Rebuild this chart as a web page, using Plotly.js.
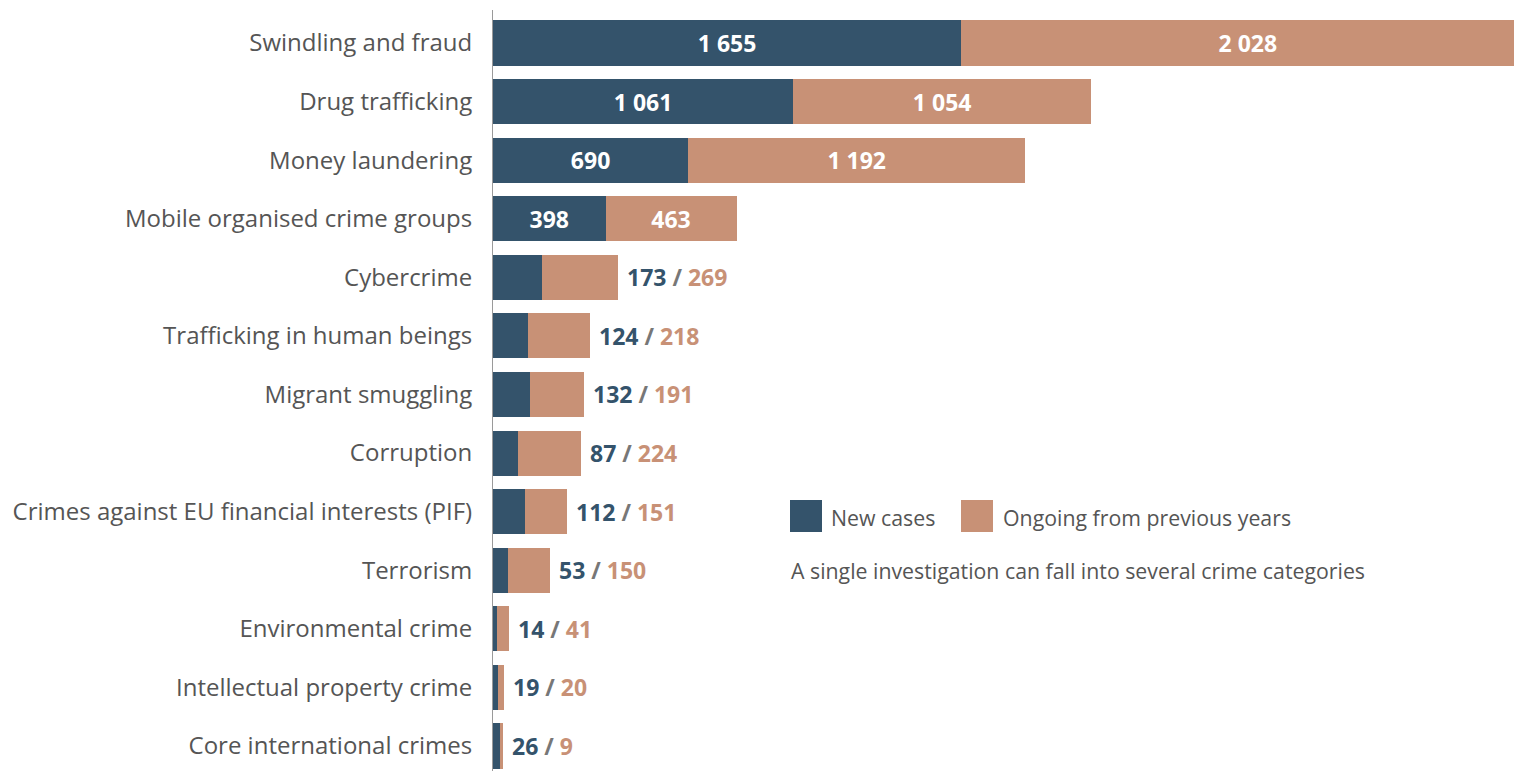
<!DOCTYPE html>
<html><head><meta charset="utf-8">
<script src="https://cdn.plot.ly/plotly-3.0.1.min.js"></script>
<style>html,body{margin:0;padding:0;background:#fff}#chart{width:1514px;height:771px}</style>
</head><body><div id="chart"></div>
<script>
const categories = ["Swindling and fraud","Drug trafficking","Money laundering","Mobile organised crime groups","Cybercrime","Trafficking in human beings","Migrant smuggling","Corruption","Crimes against EU financial interests (PIF)","Terrorism","Environmental crime","Intellectual property crime","Core international crimes"];
const newCases = [1655,1061,690,398,173,124,132,87,112,53,14,19,26];
const ongoing = [2028,1054,1192,463,269,218,191,224,151,150,41,20,9];
const insideRows = 4;
const seriesNames = ["New cases","Ongoing from previous years"];
const noteText = "A single investigation can fall into several crime categories";

const C_NEW = "#34536b", C_OLD = "#c89176", C_TXT = "#555555";
const fmt = v => String(v).replace(/\B(?=(\d{3})+(?!\d))/g, " ");

const traces = [
  {type:"bar", orientation:"h", y:categories, x:newCases, name:seriesNames[0],
   marker:{color:C_NEW}, text:newCases.map((v,i)=> i<insideRows?fmt(v):""),
   textposition:"inside", insidetextanchor:"middle", constraintext:"none",
   textfont:{color:"#ffffff", size:23, family:"Open Sans", weight:700}, hoverinfo:"none"},
  {type:"bar", orientation:"h", y:categories, x:ongoing, name:seriesNames[1],
   marker:{color:C_OLD}, text:ongoing.map((v,i)=> i<insideRows?fmt(v):""),
   textposition:"inside", insidetextanchor:"middle", constraintext:"none",
   textfont:{color:"#ffffff", size:23, family:"Open Sans", weight:700}, hoverinfo:"none"}
];

const annotations = [];
categories.forEach((c,i)=>{
  if(i<insideRows) return;
  annotations.push({x:newCases[i]+ongoing[i], y:c, xref:"x", yref:"y", xanchor:"left", yanchor:"middle",
    xshift:7, showarrow:false, font:{family:"Open Sans", size:23},
    text:`<b><span style="color:${C_NEW}">${fmt(newCases[i])}</span> <span style="color:#777777">/</span> <span style="color:${C_OLD}">${fmt(ongoing[i])}</span></b>`});
});
const PL=493, PW=1021, PT=10, PH=761;
const px = p => (p-PL)/PW, py = p => (PT+PH-p)/PH;
annotations.push({x:px(829), y:py(517), xref:"paper", yref:"paper", xanchor:"left", yanchor:"middle", showarrow:false, text:seriesNames[0], font:{family:"Open Sans", size:21.3, color:C_TXT}});
annotations.push({x:px(1001), y:py(517), xref:"paper", yref:"paper", xanchor:"left", yanchor:"middle", showarrow:false, text:seriesNames[1], font:{family:"Open Sans", size:21.3, color:C_TXT}});
annotations.push({x:px(789), y:py(570), xref:"paper", yref:"paper", xanchor:"left", yanchor:"middle", showarrow:false, text:noteText, font:{family:"Open Sans", size:21.3, color:C_TXT}});
const shapes = [
  {type:"rect", xref:"paper", yref:"paper", x0:px(790), x1:px(822), y0:py(532), y1:py(500), fillcolor:C_NEW, line:{width:0}},
  {type:"rect", xref:"paper", yref:"paper", x0:px(961), x1:px(993), y0:py(532), y1:py(500), fillcolor:C_OLD, line:{width:0}}
];

const layout = {
  width:1514, height:771, barmode:"stack", bargap:0.23, showlegend:false,
  margin:{l:PL, r:0, t:PT, b:0, pad:0},
  paper_bgcolor:"#fff", plot_bgcolor:"#fff",
  font:{family:"Open Sans", color:C_TXT},
  xaxis:{range:[0,3610], visible:false, fixedrange:true},
  yaxis:{type:"category", range:[12.427,-0.563], showline:true, linecolor:"#9a9a9a", linewidth:1,
    ticks:"outside", ticklen:15, tickcolor:"rgba(0,0,0,0)", showgrid:false, zeroline:false,
    tickfont:{family:"Open Sans", size:24, color:C_TXT}},
  annotations, shapes
};
Plotly.newPlot("chart", traces, layout, {staticPlot:true, displayModeBar:false});
</script></body></html>
